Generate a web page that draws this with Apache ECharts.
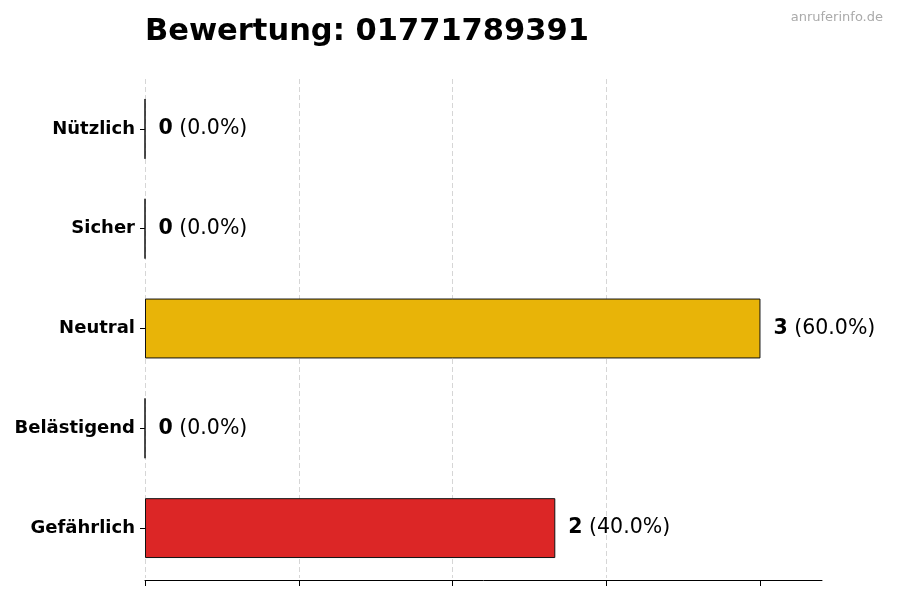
<!DOCTYPE html>
<html><head><meta charset="utf-8">
<script src="https://cdn.jsdelivr.net/npm/echarts@6/dist/echarts.min.js"></script>
<style>html,body{margin:0;padding:0;background:#fff}#c{width:900px;height:600px}</style>
</head><body><div id="c"></div>
<script>
const categories = ['Gefährlich', 'Belästigend', 'Neutral', 'Sicher', 'Nützlich'];
const values = [2, 0, 3, 0, 0];
const barColors = ['#DC2626', '#F97316', '#E8B408', '#3B82F6', '#22C55E'];
const xTicks = [0, 0.75, 1.5, 2.25, 3];
const total = values.reduce((a, b) => a + b, 0);

const chart = echarts.init(document.getElementById('c'));
chart.setOption({
  backgroundColor: '#fff',
  animation: false,
  title: {
    text: 'Bewertung: 01771789391', left: 140, top: 12,
    textStyle: { fontFamily: 'DejaVu Sans', fontWeight: 'bold', fontSize: 30.5, color: '#000' }
  },
  graphic: [{
    type: 'text', right: 17, top: 11,
    style: { text: 'anruferinfo.de', fill: '#aaa', font: '13px "DejaVu Sans"' }
  }],
  grid: { left: 145, right: 78, top: 79, bottom: 22 },
  xAxis: {
    type: 'value', min: 0, max: 3.3, interval: 0.75, offset: 2,
    axisLine: { show: true, lineStyle: { color: '#000', width: 1 } },
    axisTick: { show: true, length: 6, customValues: xTicks, lineStyle: { color: '#000' } },
    axisLabel: { show: false },
    splitLine: { show: true, showMaxLine: false, lineStyle: { type: [5, 3], color: '#ccc', width: 0.8 } }
  },
  yAxis: {
    type: 'category', data: categories,
    axisLine: { show: false },
    axisTick: { show: true, alignWithLabel: true, length: 5, lineStyle: { color: '#000' } },
    axisLabel: { fontFamily: 'DejaVu Sans', fontWeight: 'bold', fontSize: 18, color: '#000', margin: 10, padding: [3, 0, 0, 0] }
  },
  series: [{
    type: 'bar', barWidth: '60%',
    data: values.map((v, i) => ({ value: v, itemStyle: { color: barColors[i] } })),
    itemStyle: { borderColor: '#111', borderWidth: 1 },
    label: {
      show: true, position: 'right', distance: 13,
      formatter: p => '{b|' + p.value + '}{n| (' + (p.value / total * 100).toFixed(1) + '%)}',
      rich: {
        b: { fontFamily: 'DejaVu Sans', fontWeight: 'bold', fontSize: 20.5, color: '#000' },
        n: { fontFamily: 'DejaVu Sans', fontSize: 20.5, color: '#000' }
      }
    }
  }]
});
</script></body></html>
